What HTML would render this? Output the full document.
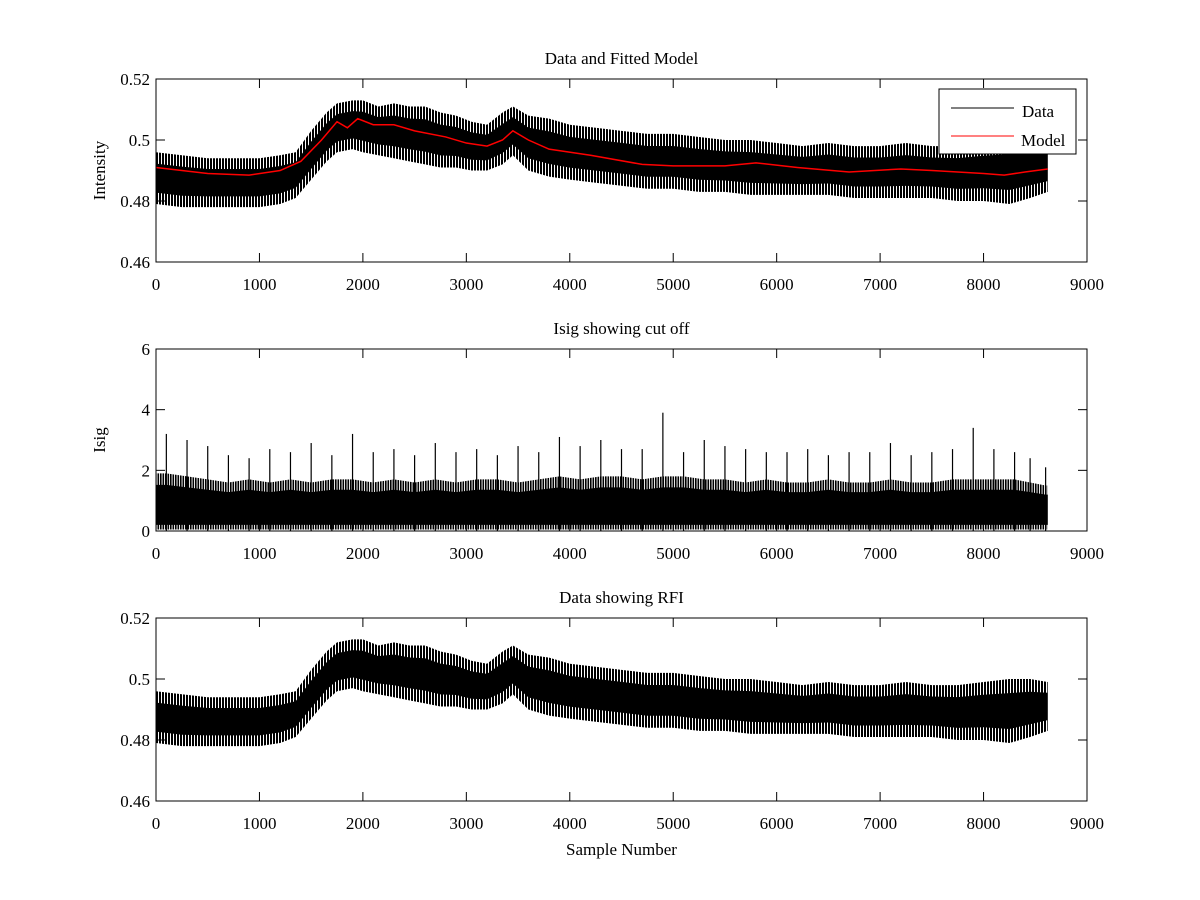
<!DOCTYPE html>
<html><head><meta charset="utf-8"><style>
html,body{margin:0;padding:0;background:#fff;}
svg{display:block;font-family:"Liberation Serif",serif;}
</style></head><body>
<svg id="fig" width="1200" height="900" viewBox="0 0 1200 900">
<defs>
<pattern id="stripes" width="3" height="10" patternUnits="userSpaceOnUse">
<rect x="0" y="0" width="2" height="10" fill="#000"/>
</pattern>
<pattern id="stripes2" width="2.5" height="10" patternUnits="userSpaceOnUse">
<rect x="0" y="0" width="1.6" height="10" fill="#000"/>
</pattern>
</defs>
</svg>
<script>
// Data envelope (samples, upper, lower)
const dataX = [0,250,500,750,1000,1200,1350,1500,1650,1750,1900,2000,2150,2300,2450,2600,2750,2900,3050,3200,3350,3450,3600,3800,4000,4250,4500,4750,5000,5250,5500,5750,6000,6250,6500,6750,7000,7250,7500,7750,8000,8250,8450,8620];
const dataHi = [0.496,0.495,0.494,0.494,0.494,0.495,0.496,0.503,0.509,0.512,0.513,0.513,0.511,0.512,0.511,0.511,0.509,0.508,0.506,0.505,0.509,0.511,0.508,0.507,0.505,0.504,0.503,0.502,0.502,0.501,0.500,0.500,0.499,0.498,0.499,0.498,0.498,0.499,0.498,0.498,0.499,0.500,0.500,0.499];
const dataLo = [0.479,0.478,0.478,0.478,0.478,0.479,0.481,0.487,0.493,0.496,0.497,0.496,0.495,0.494,0.493,0.492,0.491,0.491,0.490,0.490,0.492,0.495,0.490,0.488,0.487,0.486,0.485,0.484,0.484,0.483,0.483,0.482,0.482,0.482,0.482,0.481,0.481,0.481,0.481,0.480,0.480,0.479,0.481,0.483];
// Fitted model
const modelX = [0,500,900,1200,1400,1600,1750,1850,1950,2100,2300,2500,2800,3000,3200,3350,3450,3600,3800,4200,4700,5000,5500,5800,6200,6700,7200,7500,8000,8200,8400,8620];
const modelY = [0.491,0.489,0.4885,0.490,0.493,0.500,0.506,0.504,0.507,0.505,0.505,0.503,0.501,0.499,0.498,0.500,0.503,0.500,0.497,0.495,0.492,0.4915,0.4915,0.4925,0.491,0.4895,0.4905,0.490,0.489,0.4885,0.4895,0.4905];
// Isig: per-bin typical top and spike peak
const isigX = [100,300,500,700,900,1100,1300,1500,1700,1900,2100,2300,2500,2700,2900,3100,3300,3500,3700,3900,4100,4300,4500,4700,4900,5100,5300,5500,5700,5900,6100,6300,6500,6700,6900,7100,7300,7500,7700,7900,8100,8300,8450,8600];
const isigTop = [1.9,1.8,1.7,1.6,1.7,1.6,1.7,1.6,1.7,1.7,1.6,1.7,1.6,1.7,1.6,1.7,1.7,1.6,1.7,1.8,1.7,1.8,1.8,1.7,1.8,1.8,1.7,1.7,1.6,1.7,1.6,1.6,1.7,1.6,1.6,1.7,1.6,1.6,1.7,1.7,1.7,1.7,1.6,1.5];
const isigPeak = [3.2,3.0,2.8,2.5,2.4,2.7,2.6,2.9,2.5,3.2,2.6,2.7,2.5,2.9,2.6,2.7,2.5,2.8,2.6,3.1,2.8,3.0,2.7,2.7,3.9,2.6,3.0,2.8,2.7,2.6,2.6,2.7,2.5,2.6,2.6,2.9,2.5,2.6,2.7,3.4,2.7,2.6,2.4,2.1];
const xTicks = [0,1000,2000,3000,4000,5000,6000,7000,8000,9000];

const svg=document.getElementById('fig');const NS='http://www.w3.org/2000/svg';
function mk(t,a,p){const e=document.createElementNS(NS,t);for(const k in a)e.setAttribute(k,a[k]);(p||svg).appendChild(e);return e;}
const L=156,R=1087;
const sx=v=>L+(v/9000)*(R-L);
function axes(top,bot,ymin,ymax,yTicks,yFmt,title,ylabel,name){
  const g=mk('g',{});
  
  
  const sy=v=>bot-(v-ymin)/(ymax-ymin)*(bot-top);
  xTicks.forEach(t=>{const x=sx(t);
    mk('line',{x1:x,x2:x,y1:bot,y2:bot-9,stroke:'#000'},g);mk('line',{x1:x,x2:x,y1:top,y2:top+9,stroke:'#000'},g);
    const tx=mk('text',{x:x,y:bot+28,'font-size':17,'text-anchor':'middle'},g);tx.textContent=t;
    
    });
  yTicks.forEach(t=>{const y=sy(t);
    mk('line',{x1:L,x2:L+9,y1:y,y2:y,stroke:'#000'},g);mk('line',{x1:R,x2:R-9,y1:y,y2:y,stroke:'#000'},g);
    const tx=mk('text',{x:L-6,y:y+6,'font-size':17,'text-anchor':'end'},g);tx.textContent=yFmt(t);
    
    });
  const ti=mk('text',{x:(L+R)/2,y:top-15,'font-size':17,'text-anchor':'middle'},g);ti.textContent=title;
  
  
  if(ylabel){const yl=mk('text',{x:0,y:0,'font-size':17,'text-anchor':'middle',transform:`translate(105,${(top+bot)/2}) rotate(-90)`},g);yl.textContent=ylabel;
    
    }
  return {g,sy,top,bot};
}
function bandPath(ax,hiF,loF){
  let d='M';dataX.forEach((x,i)=>{d+=sx(x)+','+ax.sy(hiF(i))+' L';});
  for(let i=dataX.length-1;i>=0;i--)d+=sx(dataX[i])+','+ax.sy(loF(i))+(i?' L':' Z');
  return d;
}
function band(ax,name){
  const g=mk('g',{});
  
  
  mk('path',{d:bandPath(ax,i=>dataHi[i],i=>dataLo[i]),fill:'url(#stripes)'},g);
  mk('path',{d:bandPath(ax,i=>dataHi[i]-0.22*(dataHi[i]-dataLo[i]),i=>dataLo[i]+0.22*(dataHi[i]-dataLo[i])),fill:'#000'},g);
}
function box(ax){mk('rect',{x:L,y:ax.top,width:R-L,height:ax.bot-ax.top,fill:'none',stroke:'#000'});}
const f2=t=>t===0.5?'0.5':String(t);
// Plot 1
const a1=axes(79,262,0.46,0.52,[0.46,0.48,0.5,0.52],f2,'Data and Fitted Model','Intensity','top-plot');
band(a1,'data-series');
let md='';modelX.forEach((x,i)=>{md+=(i?'L':'M')+sx(x)+','+a1.sy(modelY[i]);});
const mp=mk('path',{d:md,fill:'none',stroke:'#f00','stroke-width':1.5});


box(a1);
const lg=mk('g',{});


mk('rect',{x:939,y:89,width:137,height:65,fill:'#fff',stroke:'#000'},lg);
mk('line',{x1:951,x2:1014,y1:108,y2:108,stroke:'#000'},lg);
mk('line',{x1:951,x2:1014,y1:136,y2:136,stroke:'#f00'},lg);
const lt1=mk('text',{x:1022,y:117,'font-size':17},lg);lt1.textContent='Data';


const lt2=mk('text',{x:1021,y:146,'font-size':17},lg);lt2.textContent='Model';


// Plot 2
const a2=axes(349,531,0,6,[0,2,4,6],String,'Isig showing cut off','Isig','middle-plot');
const ig=mk('g',{});


let id='M'+sx(0)+','+a2.sy(0.05)+' L'+sx(0)+','+a2.sy(isigTop[0]);
isigX.forEach((x,i)=>{id+=' L'+sx(x)+','+a2.sy(isigTop[i]);});
id+=' L'+sx(8620)+','+a2.sy(isigTop[isigTop.length-1])+' L'+sx(8620)+','+a2.sy(0.05)+' Z';
mk('path',{d:id,fill:'url(#stripes2)'},ig);
let id2='M'+sx(0)+','+a2.sy(0.2)+' L'+sx(0)+','+a2.sy(isigTop[0]*0.8);
isigX.forEach((x,i)=>{id2+=' L'+sx(x)+','+a2.sy(isigTop[i]*0.8);});
id2+=' L'+sx(8620)+','+a2.sy(isigTop[isigTop.length-1]*0.8)+' L'+sx(8620)+','+a2.sy(0.2)+' Z';
mk('path',{d:id2,fill:'#000'},ig);
isigX.forEach((x,i)=>{
  const s=mk('line',{x1:sx(x),x2:sx(x),y1:a2.sy(0),y2:a2.sy(isigPeak[i]),stroke:'#000','stroke-width':1.2},ig);
  
  
});
box(a2);
// Plot 3
const a3=axes(618,801,0.46,0.52,[0.46,0.48,0.5,0.52],f2,'Data showing RFI',null,'bottom-plot');
band(a3,'rfi-data-series');
box(a3);
const xl=mk('text',{x:(L+R)/2,y:855,'font-size':17,'text-anchor':'middle'});xl.textContent='Sample Number';


</script>
</body></html>
